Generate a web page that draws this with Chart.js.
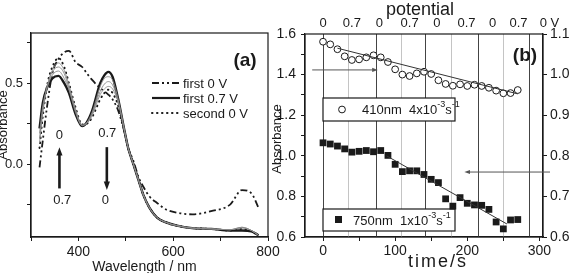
<!DOCTYPE html>
<html>
<head>
<meta charset="utf-8">
<script src="https://cdn.jsdelivr.net/npm/chart.js@4.4.0/dist/chart.umd.min.js"></script>
<style>
  html, body { margin: 0; padding: 0; background: #fff; }
  #wrap { position: relative; width: 569px; height: 273px; overflow: hidden; background: #fff; }
  #chartA { position: absolute; left: 0; top: 0; }
  #chartB { position: absolute; left: 270px; top: 0; }
</style>
</head>
<body>
<div id="wrap">
  <canvas id="chartA" width="290" height="273" style="width:290px;height:273px"></canvas>
  <canvas id="chartB" width="299" height="273" style="width:299px;height:273px"></canvas>
</div>
<script>
// ---- (a) spectra ----
const wavelengths = [318, 325, 335, 345, 358, 370, 380, 394, 408, 418, 429, 446, 455, 463, 472, 484, 497, 505, 516, 527, 537, 550, 566, 585, 608, 640, 680, 720, 745, 765, 780];
const first0V  = [-0.02, 0.15, 0.38, 0.56, 0.65, 0.69, 0.70, 0.63, 0.60, 0.56, 0.52, 0.47, 0.45, 0.43, 0.40, 0.33, 0.20, 0.10, 0.02, -0.08, -0.14, -0.20, -0.24, -0.28, -0.30, -0.31, -0.29, -0.25, -0.16, -0.18, -0.27];
const first07V = [0.22, 0.38, 0.48, 0.53, 0.545, 0.50, 0.44, 0.31, 0.235, 0.26, 0.33, 0.50, 0.55, 0.57, 0.54, 0.40, 0.21, 0.10, 0.00, -0.10, -0.19, -0.27, -0.33, -0.36, -0.38, -0.395, -0.40, -0.41, -0.41, -0.415, -0.44];
const step1    = [0.19, 0.36, 0.48, 0.55, 0.575, 0.53, 0.46, 0.32, 0.237, 0.258, 0.32, 0.48, 0.53, 0.54, 0.52, 0.40, 0.21, 0.10, 0.00, -0.10, -0.19, -0.27, -0.33, -0.36, -0.38, -0.395, -0.40, -0.405, -0.395, -0.41, -0.44];
const step2    = [0.16, 0.34, 0.49, 0.57, 0.60, 0.56, 0.47, 0.33, 0.24, 0.255, 0.31, 0.45, 0.495, 0.51, 0.49, 0.39, 0.21, 0.10, 0.00, -0.10, -0.19, -0.27, -0.33, -0.36, -0.38, -0.395, -0.40, -0.405, -0.39, -0.41, -0.44];
const step3    = [0.13, 0.32, 0.49, 0.58, 0.625, 0.58, 0.49, 0.34, 0.242, 0.252, 0.30, 0.43, 0.465, 0.48, 0.465, 0.38, 0.205, 0.10, 0.00, -0.10, -0.19, -0.27, -0.33, -0.36, -0.38, -0.395, -0.40, -0.405, -0.39, -0.41, -0.44];
const second0V = [0.10, 0.30, 0.50, 0.60, 0.655, 0.60, 0.50, 0.35, 0.245, 0.25, 0.29, 0.40, 0.44, 0.46, 0.44, 0.36, 0.20, 0.10, 0.00, -0.10, -0.19, -0.27, -0.33, -0.36, -0.38, -0.395, -0.40, -0.41, -0.40, -0.415, -0.44];
const wlTicks = [300, 400, 500, 600, 700, 800];
const wlLabels = [400, 600, 800];
const absTicksA = [-0.25, 0, 0.25, 0.5, 0.75];
const absLabelsA = [0, 0.5];

// ---- (b) time traces ----
const times  = [0, 10, 20, 30, 40, 50, 60, 70, 80, 90, 100, 110, 120, 130, 140, 150, 160, 170, 180, 190, 200, 210, 220, 230, 240, 250, 260, 270];
const abs410 = [1.562, 1.549, 1.525, 1.490, 1.472, 1.475, 1.485, 1.495, 1.485, 1.462, 1.426, 1.400, 1.393, 1.406, 1.414, 1.403, 1.372, 1.354, 1.345, 1.352, 1.344, 1.350, 1.344, 1.335, 1.321, 1.308, 1.309, 1.324];
const abs750 = [0.832, 0.829, 0.824, 0.817, 0.809, 0.811, 0.813, 0.810, 0.813, 0.801, 0.779, 0.761, 0.763, 0.763, 0.754, 0.742, 0.734, 0.694, 0.676, 0.697, 0.683, 0.679, 0.678, 0.668, 0.637, 0.620, 0.642, 0.643];
const fit410Times = [20, 270];
const fit410Abs   = [1.53, 1.305];
const fit750Times = [88, 255];
const fit750Abs   = [0.80, 0.632];
const timeTicks = [0, 50, 100, 150, 200, 250, 300];
const timeLabels = [0, 100, 200, 300];
const absTicksB = [0.6, 0.7, 0.8, 0.9, 1.0, 1.1, 1.2, 1.3, 1.4, 1.5, 1.6];
const absLabelsB = [0.6, 0.8, 1.0, 1.2, 1.4, 1.6];
const absTicksB2 = [0.6, 0.7, 0.8, 0.9, 1.0, 1.1];
const switchTo0 = [0, 73, 142, 215, 285];
const switchTo07 = [35, 108, 178, 249];
const potentialTimes = [0, 40, 78, 120, 158, 199, 235, 271, 314];
const potentialLabels = ['0', '0.7', '0', '0.7', '0', '0.7', '0', '0.7', '0 V'];

const FONT = "'Liberation Sans', Arial, sans-serif";
const INK = '#1a1a1a';

function xy(xs, ys) {
    return xs.map((x, i) => ({ x: x, y: ys[i] }));
}

function arrow(ctx, x1, y1, x2, y2, head, width) {
    const ang = Math.atan2(y2 - y1, x2 - x1);
    ctx.beginPath();
    ctx.moveTo(x1, y1);
    ctx.lineTo(x2 - Math.cos(ang) * head * 0.8, y2 - Math.sin(ang) * head * 0.8);
    ctx.lineWidth = width;
    ctx.stroke();
    ctx.beginPath();
    ctx.moveTo(x2, y2);
    ctx.lineTo(x2 - head * Math.cos(ang - 0.35), y2 - head * Math.sin(ang - 0.35));
    ctx.lineTo(x2 - head * Math.cos(ang + 0.35), y2 - head * Math.sin(ang + 0.35));
    ctx.closePath();
    ctx.fill();
}

// Common axis bits
function tickGrid() {
    return { drawOnChartArea: false, drawTicks: true, tickLength: 4, color: INK, lineWidth: 1 };
}

// ---------- Panel (a) ----------
const panelA = {
    id: 'panelA',
    afterDraw(chart) {
        const { ctx, chartArea: a, scales: { x, y } } = chart;
        ctx.save();
        ctx.strokeStyle = INK;
        ctx.lineWidth = 1.2;
        ctx.strokeRect(a.left, a.top, a.right - a.left, a.bottom - a.top);

        ctx.fillStyle = INK;
        ctx.font = 'bold 19px ' + FONT;
        ctx.textAlign = 'center';
        ctx.textBaseline = 'middle';
        ctx.fillText('(a)', a.right - 23, a.top + 28);

        // legend
        const rows = [
            { label: 'first 0 V', dash: [7, 3, 2, 3, 2, 3], w: 1.8, cap: 'butt' },
            { label: 'first 0.7 V', dash: [], w: 2.2, cap: 'butt' },
            { label: 'second 0 V', dash: [0.5, 4.5], w: 2, cap: 'round' }
        ];
        ctx.font = '13px ' + FONT;
        ctx.textAlign = 'left';
        rows.forEach((r, i) => {
            const yy = a.top + 50 + i * 15;
            ctx.beginPath();
            ctx.setLineDash(r.dash);
            ctx.lineCap = r.cap;
            ctx.lineWidth = r.w;
            ctx.moveTo(a.left + 121, yy);
            ctx.lineTo(a.left + 149, yy);
            ctx.stroke();
            ctx.setLineDash([]);
            ctx.fillText(r.label, a.left + 152, yy + 1);
        });
        ctx.lineCap = 'butt';

        // potential step arrows
        ctx.font = '13px ' + FONT;
        ctx.textAlign = 'center';
        arrow(ctx, x.getPixelForValue(360), y.getPixelForValue(-0.15), x.getPixelForValue(360), y.getPixelForValue(0.105), 9, 2.6);
        arrow(ctx, x.getPixelForValue(460), y.getPixelForValue(0.105), x.getPixelForValue(460), y.getPixelForValue(-0.16), 9, 2.6);
        ctx.fillText('0', x.getPixelForValue(360), y.getPixelForValue(0.175));
        ctx.fillText('0.7', x.getPixelForValue(366), y.getPixelForValue(-0.225));
        ctx.fillText('0.7', x.getPixelForValue(461), y.getPixelForValue(0.19));
        ctx.fillText('0', x.getPixelForValue(457), y.getPixelForValue(-0.225));

        // axis titles
        ctx.font = '14px ' + FONT;
        ctx.fillText('Wavelength / nm', (a.left + a.right) / 2 - 5, 267);
        ctx.save();
        ctx.translate(3, 125);
        ctx.rotate(-Math.PI / 2);
        ctx.font = '13px ' + FONT;
        ctx.fillText('Absorbance', 0, 0);
        ctx.restore();
        ctx.restore();
    }
};

const thin = { borderColor: '#8a8a8a', borderWidth: 0.9 };

new Chart(document.getElementById('chartA'), {
    type: 'line',
    data: {
        datasets: [
            Object.assign({ data: xy(wavelengths, step1) }, thin),
            Object.assign({ data: xy(wavelengths, step2) }, thin),
            Object.assign({ data: xy(wavelengths, step3) }, thin),
            { label: 'second 0 V', data: xy(wavelengths, second0V), borderColor: INK, borderWidth: 2, borderDash: [0.5, 4.5], borderCapStyle: 'round' },
            { label: 'first 0 V', data: xy(wavelengths, first0V), borderColor: INK, borderWidth: 1.8, borderDash: [7, 3, 2, 3, 2, 3] },
            { label: 'first 0.7 V', data: xy(wavelengths, first07V), borderColor: INK, borderWidth: 2.4 }
        ]
    },
    options: {
        responsive: false,
        animation: false,
        events: [],
        elements: { point: { radius: 0 }, line: { cubicInterpolationMode: 'monotone', fill: false } },
        layout: { padding: { left: 0, right: 22, top: 33, bottom: 0 } },
        plugins: { legend: { display: false }, tooltip: { enabled: false } },
        scales: {
            x: {
                type: 'linear', min: 300, max: 800,
                afterBuildTicks: s => { s.ticks = wlTicks.map(v => ({ value: v })); },
                afterFit: s => { s.height = 36; },
                grid: tickGrid(),
                border: { display: true, color: INK, width: 1.2 },
                ticks: {
                    autoSkip: false, maxRotation: 0, padding: 3, color: INK,
                    font: { family: FONT, size: 14 },
                    callback: v => wlLabels.includes(v) ? String(v) : ''
                }
            },
            y: {
                type: 'linear', min: -0.45, max: 0.81,
                afterBuildTicks: s => { s.ticks = absTicksA.map(v => ({ value: v })); },
                afterFit: s => { s.width = 31; },
                grid: tickGrid(),
                border: { display: true, color: INK, width: 1.2 },
                ticks: {
                    autoSkip: false, padding: 4, color: INK,
                    font: { family: FONT, size: 13 },
                    callback: v => absLabelsA.includes(v) ? v.toFixed(1) : ''
                }
            }
        }
    },
    plugins: [panelA]
});

// ---------- Panel (b) ----------
const panelBUnder = {
    id: 'panelBUnder',
    beforeDatasetsDraw(chart) {
        const { ctx, chartArea: a, scales: { x } } = chart;
        ctx.save();
        ctx.lineWidth = 0.8;
        ctx.strokeStyle = '#b5b5b5';
        switchTo07.forEach(t => {
            const px = Math.round(x.getPixelForValue(t)) + 0.5;
            ctx.beginPath(); ctx.moveTo(px, a.top); ctx.lineTo(px, a.bottom); ctx.stroke();
        });
        ctx.lineWidth = 1;
        ctx.strokeStyle = '#444';
        switchTo0.forEach(t => {
            const px = Math.round(x.getPixelForValue(t)) + 0.5;
            ctx.beginPath(); ctx.moveTo(px, a.top); ctx.lineTo(px, a.bottom); ctx.stroke();
        });

        // legend boxes (drawn under the data)
        ctx.fillStyle = '#fff';
        ctx.strokeStyle = INK;
        ctx.lineWidth = 1.2;
        [[a.left + 18, 98, 132, 23], [a.left + 18, 209, 132, 22]].forEach(b => {
            ctx.fillRect(b[0], b[1], b[2], b[3]);
            ctx.strokeRect(b[0], b[1], b[2], b[3]);
        });
        ctx.restore();
    }
};

const panelB = {
    id: 'panelB',
    afterDraw(chart) {
        const { ctx, chartArea: a, scales: { x, y, y2 } } = chart;
        ctx.save();
        ctx.strokeStyle = INK;
        ctx.lineWidth = 1.2;
        ctx.strokeRect(a.left, a.top, a.right - a.left, a.bottom - a.top);

        // axis-assignment arrows
        ctx.strokeStyle = '#555';
        ctx.fillStyle = '#555';
        arrow(ctx, x.getPixelForValue(-15), y.getPixelForValue(1.423), x.getPixelForValue(76), y.getPixelForValue(1.423), 6, 1);
        arrow(ctx, a.right + 7, y2.getPixelForValue(0.76), x.getPixelForValue(196), y2.getPixelForValue(0.76), 6, 1);

        // legend contents
        ctx.fillStyle = INK;
        ctx.strokeStyle = INK;
        ctx.lineWidth = 1;
        ctx.beginPath();
        ctx.arc(a.left + 37, 109.5, 3.4, 0, Math.PI * 2);
        ctx.stroke();
        ctx.fillRect(a.left + 30, 216, 7, 7);
        ctx.textBaseline = 'middle';
        ctx.textAlign = 'left';
        const legendText = (x0, y0, main, exp1, unit, exp2) => {
            ctx.font = '13px ' + FONT;
            ctx.fillText(main, x0, y0);
            let cx = x0 + ctx.measureText(main).width;
            ctx.font = '9px ' + FONT;
            ctx.fillText(exp1, cx, y0 - 5);
            cx += ctx.measureText(exp1).width;
            ctx.font = '13px ' + FONT;
            ctx.fillText(unit, cx, y0);
            cx += ctx.measureText(unit).width;
            ctx.font = '9px ' + FONT;
            ctx.fillText(exp2, cx, y0 - 5);
        };
        legendText(a.left + 57, 110, '410nm  4x10', '-3', 's', '-1');
        legendText(a.left + 48, 221, '750nm  1x10', '-3', 's', '-1');

        // (b)
        ctx.font = 'bold 19px ' + FONT;
        ctx.textAlign = 'center';
        ctx.fillText('(b)', a.right - 18, 56);

        // top potential axis
        ctx.font = '13px ' + FONT;
        potentialTimes.forEach((t, i) => {
            ctx.fillText(potentialLabels[i], x.getPixelForValue(t), 23);
        });
        ctx.font = '18px ' + FONT;
        ctx.fillText('potential', 150, 10);

        // bottom title
        ctx.letterSpacing = '2px';
        ctx.fillText('time/s', 168, 262);
        ctx.letterSpacing = '0px';

        // left title
        ctx.save();
        ctx.translate(7, 139);
        ctx.rotate(-Math.PI / 2);
        ctx.font = '13px ' + FONT;
        ctx.fillText('Absorbance', 0, 0);
        ctx.restore();
        ctx.restore();
    }
};

new Chart(document.getElementById('chartB'), {
    type: 'scatter',
    data: {
        datasets: [
            { type: 'line', data: xy(fit410Times, fit410Abs), yAxisID: 'y', borderColor: '#333', borderWidth: 1, pointRadius: 0 },
            { type: 'line', data: xy(fit750Times, fit750Abs), yAxisID: 'y2', borderColor: '#333', borderWidth: 1, pointRadius: 0 },
            { label: '410nm', data: xy(times, abs410), yAxisID: 'y', pointStyle: 'circle', pointRadius: 3.4, backgroundColor: '#fff', borderColor: INK, borderWidth: 1 },
            { label: '750nm', data: xy(times, abs750), yAxisID: 'y2', pointStyle: 'rect', pointRadius: 4.8, backgroundColor: INK, borderColor: INK, borderWidth: 0 }
        ]
    },
    options: {
        responsive: false,
        animation: false,
        events: [],
        layout: { padding: { left: 0, right: 0, top: 34, bottom: 0 } },
        plugins: { legend: { display: false }, tooltip: { enabled: false } },
        scales: {
            x: {
                type: 'linear', min: -25, max: 305,
                afterBuildTicks: s => { s.ticks = timeTicks.map(v => ({ value: v })); },
                afterFit: s => { s.height = 36; },
                grid: tickGrid(),
                border: { display: true, color: INK, width: 1.2 },
                ticks: {
                    autoSkip: false, maxRotation: 0, padding: 2, color: INK,
                    font: { family: FONT, size: 14 },
                    callback: v => timeLabels.includes(v) ? String(v) : ''
                }
            },
            y: {
                type: 'linear', position: 'left', min: 0.6, max: 1.6,
                afterBuildTicks: s => { s.ticks = absTicksB.map(v => ({ value: v })); },
                afterFit: s => { s.width = 35; },
                grid: tickGrid(),
                border: { display: true, color: INK, width: 1.2 },
                ticks: {
                    autoSkip: false, padding: 5, color: INK,
                    font: { family: FONT, size: 14 },
                    callback: v => absLabelsB.includes(v) ? v.toFixed(1) : ''
                }
            },
            y2: {
                type: 'linear', position: 'right', min: 0.6, max: 1.1,
                afterBuildTicks: s => { s.ticks = absTicksB2.map(v => ({ value: v })); },
                afterFit: s => { s.width = 26; },
                grid: tickGrid(),
                border: { display: true, color: INK, width: 1.2 },
                ticks: {
                    autoSkip: false, padding: 3, color: INK,
                    font: { family: FONT, size: 14 },
                    callback: v => v.toFixed(1)
                }
            }
        }
    },
    plugins: [panelBUnder, panelB]
});
</script>
</body>
</html>
